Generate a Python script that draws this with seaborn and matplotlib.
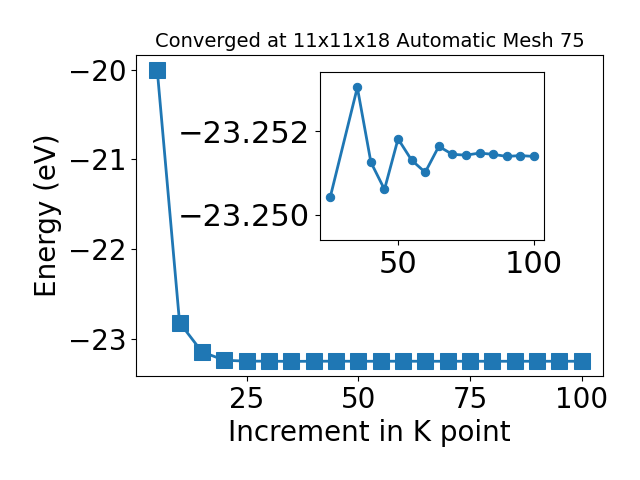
import matplotlib
matplotlib.use("Agg")
import matplotlib.pyplot as plt
import seaborn as sns
import pandas as pd

# Data
kpoints = [5, 10, 15, 20, 25, 30, 35, 40, 45, 50, 55, 60, 65, 70, 75, 80, 85, 90, 95, 100]
energy = [-20.0, -22.82, -23.146, -23.24, -23.2504, -23.2505, -23.2531, -23.2513, -23.2506, -23.2518,
          -23.2513, -23.2510, -23.2516, -23.2515, -23.2514, -23.2515, -23.2515, -23.2514, -23.2514, -23.2514]

inset_k = [25, 35, 40, 45, 50, 55, 60, 65, 70, 75, 80, 85, 90, 95, 100]
inset_e = [-23.25042, -23.25305, -23.25126, -23.25061, -23.25182, -23.25131, -23.25102, -23.25164,
           -23.25145, -23.25143, -23.25148, -23.25145, -23.25140, -23.25142, -23.25140]

df = pd.DataFrame({"k": kpoints, "E": energy})
df_in = pd.DataFrame({"k": inset_k, "E": inset_e})

fig = plt.figure(figsize=(6.4, 4.8), dpi=100)
ax = fig.add_axes([0.2125, 0.2167, 0.7295, 0.6683])
sns.lineplot(data=df, x="k", y="E", ax=ax, marker="s", markersize=11,
             linewidth=2, color="#1f77b4", markeredgecolor="#1f77b4")
ax.set_title("Converged at 11x11x18 Automatic Mesh 75", fontsize=14)
ax.set_xlabel("Increment in K point", fontsize=20)
ax.set_ylabel("Energy (eV)", fontsize=20)
ax.set_xticks([25, 50, 75, 100])
ax.set_yticks([-20, -21, -22, -23])
ax.tick_params(labelsize=20)

# inset
axi = fig.add_axes([0.5, 0.5, 0.35, 0.35])
sns.lineplot(data=df_in, x="k", y="E", ax=axi, marker="o", markersize=6,
             linewidth=2, color="#1f77b4", markeredgecolor="#1f77b4")
axi.set_ylim(-23.2494, -23.25342)
axi.set_xticks([50, 100])
axi.set_yticks([-23.252, -23.250])
axi.set_yticklabels(["\u221223.252", "\u221223.250"])
axi.tick_params(labelsize=22)
axi.set_xlabel("")
axi.set_ylabel("")

fig.savefig("out.png", dpi=100)
